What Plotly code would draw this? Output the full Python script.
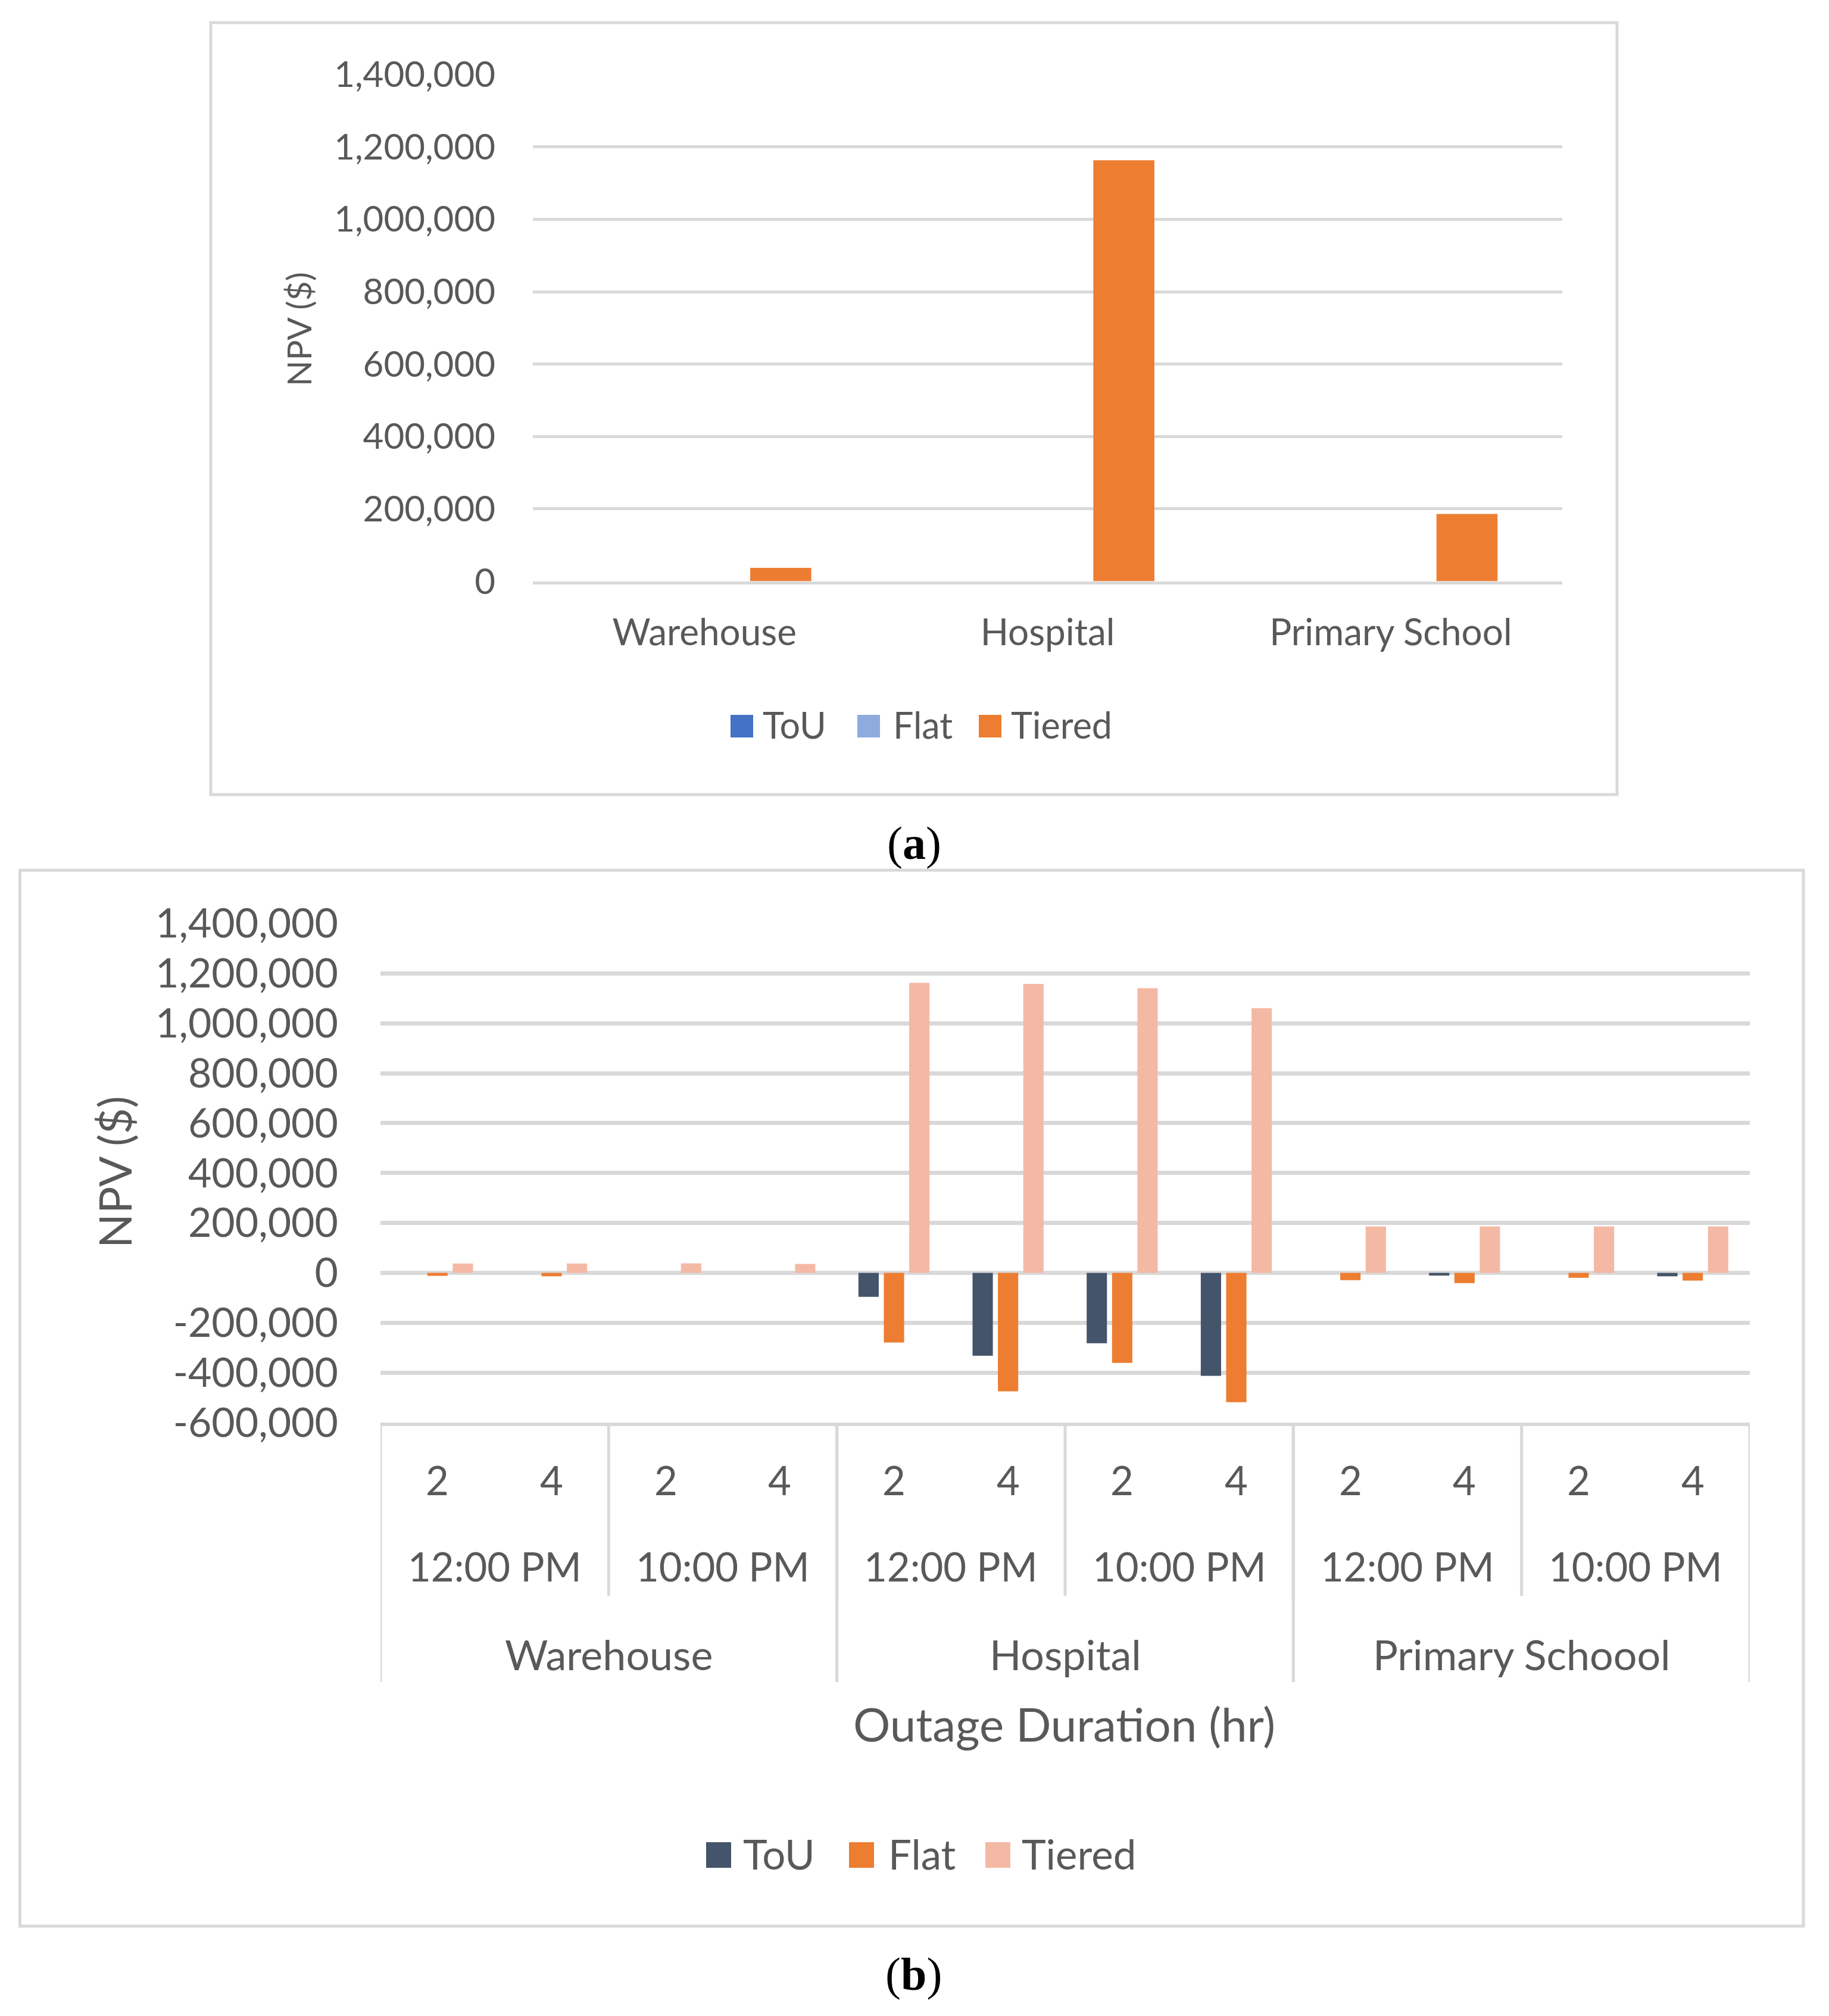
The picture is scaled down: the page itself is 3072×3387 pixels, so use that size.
import plotly.graph_objects as go

W, H = 3072, 3387
OFF = 8  # default page body margin of the html page
FONT = "Lato"
TXT = "#595959"
GRID = "#D9D9D9"


def fx(x):
    return (x - OFF) / W


def fy(y):
    return 1 - (y - OFF) / H


# ---------------- data: panel (a) ----------------
cats_a = ["Warehouse", "Hospital", "Primary School"]
tou_a = [0, 0, 0]
flat_a = [0, 0, 0]
tiered_a = [37000, 1163000, 186000]

# ---------------- data: panel (b) ----------------
buildings_b = ["Warehouse"] * 4 + ["Hospital"] * 4 + ["Primary Schoool"] * 4
times_b = ["12:00 PM", "12:00 PM", "10:00 PM", "10:00 PM"] * 3
hours_b = ["2", "4", "2", "4"] * 3
tou_b = [0, 0, 0, 0, -96000, -332000, -282000, -413000, 0, -11000, 0, -14000]
flat_b = [-12000, -14000, 0, 0, -279000, -475000, -361000, -518000, -29000, -41000, -20000, -31000]
tiered_b = [37700, 37700, 38000, 36000, 1162000, 1158000, 1141000, 1061000, 186000, 186000, 186000, 186000]

series_names = ["ToU", "Flat", "Tiered"]
colors_a = ["#4472C4", "#8FAADC", "#ED7D31"]
colors_b = ["#44546A", "#ED7D31", "#F4B9A5"]

yticks_a = [0, 200000, 400000, 600000, 800000, 1000000, 1200000, 1400000]
yticklabels_a = ["0", "200,000", "400,000", "600,000", "800,000", "1,000,000", "1,200,000", "1,400,000"]
yticks_b = [-600000, -400000, -200000, 0, 200000, 400000, 600000, 800000, 1000000, 1200000, 1400000]
yticklabels_b = ["-600,000", "-400,000", "-200,000", "0", "200,000", "400,000", "600,000",
                 "800,000", "1,000,000", "1,200,000", "1,400,000"]

fig = go.Figure()

for name, vals, col in zip(series_names, [tou_a, flat_a, tiered_a], colors_a):
    fig.add_trace(go.Bar(x=cats_a, y=vals, name=name, marker_color=col,
                         marker_line_width=0, xaxis="x", yaxis="y", showlegend=False))

idx_b = list(range(len(hours_b)))
for name, vals, col in zip(series_names, [tou_b, flat_b, tiered_b], colors_b):
    fig.add_trace(go.Bar(x=idx_b, y=vals, name=name, marker_color=col,
                         marker_line_width=0, xaxis="x2", yaxis="y2", showlegend=False))

# plot area pixel boxes
A_L, A_R, A_T, A_B = 895, 2624, 125.2, 976.6
B_L, B_R, B_T, B_B = 639, 2939, 1551.6, 2390

fig.update_layout(
    template="none",
    width=W, height=H,
    margin=dict(l=0, r=0, t=0, b=0, pad=0, autoexpand=False),
    paper_bgcolor="white", plot_bgcolor="white",
    barmode="group", bargap=0.333, bargroupgap=0.2,
    font=dict(family=FONT, color=TXT),
    xaxis=dict(domain=[fx(A_L), fx(A_R)], anchor="y", showgrid=False, zeroline=False,
               automargin=False,
               showline=True, linecolor=GRID, linewidth=5,
               tickfont=dict(size=62, color=TXT, family=FONT), ticks="",
               ticklabelstandoff=28),
    yaxis=dict(domain=[fy(A_B), fy(A_T)], anchor="x", range=[0, 1400000], automargin=False,
               tickvals=yticks_a, ticktext=yticklabels_a, showgrid=True,
               gridcolor=GRID, gridwidth=5, zeroline=False, showline=False, ticks="",
               tickfont=dict(size=60, color=TXT, family=FONT), ticklabelstandoff=62),
    xaxis2=dict(domain=[fx(B_L), fx(B_R)], anchor="y2", range=[-0.5, len(idx_b) - 0.5],
                automargin=False,
                showgrid=False, zeroline=False, showticklabels=False, ticks="",
                showline=True, linecolor=GRID, linewidth=6),
    yaxis2=dict(domain=[fy(B_B), fy(B_T)], anchor="x2", range=[-600000, 1400000], automargin=False,
                tickvals=yticks_b, ticktext=yticklabels_b, showgrid=True,
                gridcolor=GRID, gridwidth=7, zeroline=False, showline=False, ticks="",
                tickfont=dict(size=68, color=TXT, family=FONT), ticklabelstandoff=70),
)

shapes = []
annotations = []

# panel borders
shapes.append(dict(type="rect", xref="paper", yref="paper", x0=fx(354), x1=fx(2716),
                   y0=fy(1335), y1=fy(38), line=dict(color=GRID, width=5)))
shapes.append(dict(type="rect", xref="paper", yref="paper", x0=fx(33.5), x1=fx(3029),
                   y0=fy(3236), y1=fy(1462), line=dict(color=GRID, width=5)))

# y titles
annotations.append(dict(text="NPV ($)", x=fx(501), y=fy(553), xref="paper", yref="paper",
                        textangle=-90, showarrow=False, font=dict(size=57, color=TXT, family=FONT),
                        xanchor="center", yanchor="middle"))
annotations.append(dict(text="NPV ($)", x=fx(191), y=fy(1969), xref="paper", yref="paper",
                        textangle=-90, showarrow=False, font=dict(size=76, color=TXT, family=FONT),
                        xanchor="center", yanchor="middle"))

# panel (b) multi-level category labels
for i, h in zip(idx_b, hours_b):
    annotations.append(dict(text=h, x=i, y=fy(2486), xref="x2", yref="paper", showarrow=False,
                            font=dict(size=67, color=TXT, family=FONT), xanchor="center", yanchor="middle"))


def groups(labels, keys):
    out = []
    start = 0
    for i in range(1, len(labels) + 1):
        if i == len(labels) or keys[i] != keys[start]:
            out.append((labels[start], start, i - 1))
            start = i
    return out


time_keys = [b + t for b, t in zip(buildings_b, times_b)]
for lab, s, e in groups(times_b, time_keys):
    annotations.append(dict(text=lab, x=(s + e) / 2, y=fy(2631), xref="x2", yref="paper", showarrow=False,
                            font=dict(size=67, color=TXT, family=FONT), xanchor="center", yanchor="middle"))
    if s > 0:
        shapes.append(dict(type="line", xref="x2", yref="paper", x0=s - 0.5, x1=s - 0.5,
                           y0=fy(2681), y1=fy(B_B), line=dict(color=GRID, width=5)))

for lab, s, e in groups(buildings_b, buildings_b):
    annotations.append(dict(text=lab, x=(s + e) / 2, y=fy(2779), xref="x2", yref="paper", showarrow=False,
                            font=dict(size=70, color=TXT, family=FONT), xanchor="center", yanchor="middle"))
    for xb in ([s - 0.5, e + 0.5]):
        shapes.append(dict(type="line", xref="x2", yref="paper", x0=xb, x1=xb,
                           y0=fy(2826), y1=fy(B_B), line=dict(color=GRID, width=5)))

annotations.append(dict(text="Outage Duration (hr)", x=fx(1787), y=fy(2896), xref="paper", yref="paper",
                        showarrow=False, font=dict(size=78, color=TXT, family=FONT),
                        xanchor="center", yanchor="middle"))

# manual legends (large swatches)
leg_a_sw = [1227, 1440, 1644]
leg_a_tx = [1279, 1498, 1696]
for name, col, sx, tx in zip(series_names, colors_a, leg_a_sw, leg_a_tx):
    shapes.append(dict(type="rect", xref="paper", yref="paper", x0=fx(sx), x1=fx(sx + 38),
                       y0=fy(1239), y1=fy(1201), fillcolor=col, line=dict(width=0)))
    annotations.append(dict(text=name, x=fx(tx), y=fy(1218), xref="paper", yref="paper", showarrow=False,
                            font=dict(size=61, color=TXT, family=FONT), xanchor="left", yanchor="middle"))

leg_b_sw = [1186, 1426, 1655]
leg_b_tx = [1246, 1490, 1714]
for name, col, sx, tx in zip(series_names, colors_b, leg_b_sw, leg_b_tx):
    shapes.append(dict(type="rect", xref="paper", yref="paper", x0=fx(sx), x1=fx(sx + 42),
                       y0=fy(3138), y1=fy(3095), fillcolor=col, line=dict(width=0)))
    annotations.append(dict(text=name, x=fx(tx), y=fy(3114), xref="paper", yref="paper", showarrow=False,
                            font=dict(size=69, color=TXT, family=FONT), xanchor="left", yanchor="middle"))

# captions
annotations.append(dict(text="(<b>a</b>)", x=fx(1535), y=fy(1416), xref="paper", yref="paper",
                        showarrow=False, font=dict(size=78, color="black", family="Liberation Serif"),
                        xanchor="center", yanchor="middle"))
annotations.append(dict(text="(<b>b</b>)", x=fx(1534), y=fy(3316), xref="paper", yref="paper",
                        showarrow=False, font=dict(size=78, color="black", family="Liberation Serif"),
                        xanchor="center", yanchor="middle"))

fig.update_layout(shapes=shapes, annotations=annotations)
fig.write_html("out.html")
